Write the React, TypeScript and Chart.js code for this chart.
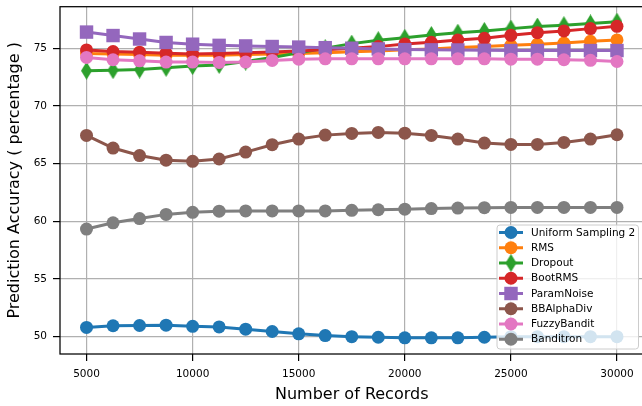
import React, { useEffect, useRef } from "react";
import { Chart, registerables } from "chart.js";

Chart.register(...registerables);

// ---- data ----
const records = [
  5000, 6250, 7500, 8750, 10000, 11250, 12500, 13750, 15000, 16250, 17500,
  18750, 20000, 21250, 22500, 23750, 25000, 26250, 27500, 28750, 30000,
];
const uniformSampling2 = [
  50.8, 50.95, 50.97, 51.0, 50.9, 50.85, 50.65, 50.45, 50.25, 50.1, 50.0,
  49.95, 49.9, 49.9, 49.9, 49.95, 50.0, 50.0, 50.0, 50.0, 50.0,
];
const rms = [
  74.55, 74.5, 74.45, 74.4, 74.4, 74.4, 74.45, 74.5, 74.55, 74.6, 74.7,
  74.77, 74.86, 74.94, 75.06, 75.15, 75.25, 75.35, 75.45, 75.6, 75.72,
];
const dropout = [
  73.05, 73.1, 73.15, 73.3, 73.45, 73.55, 73.85, 74.2, 74.6, 75.0, 75.4,
  75.7, 75.9, 76.15, 76.35, 76.5, 76.7, 76.88, 77.0, 77.15, 77.3,
];
const bootRms = [
  74.85, 74.71, 74.66, 74.57, 74.5, 74.55, 74.6, 74.68, 74.77, 74.86, 75.0,
  75.14, 75.37, 75.51, 75.71, 75.86, 76.12, 76.35, 76.5, 76.7, 76.9,
];
const paramNoise = [
  76.4, 76.1, 75.8, 75.5, 75.35, 75.25, 75.2, 75.15, 75.1, 75.05, 75.0,
  74.94, 74.88, 74.86, 74.85, 74.82, 74.8, 74.8, 74.8, 74.8, 74.8,
];
const bbAlphaDiv = [
  67.44, 66.35, 65.7, 65.3, 65.2, 65.4, 66.0, 66.64, 67.13, 67.47, 67.62,
  67.7, 67.64, 67.44, 67.13, 66.78, 66.66, 66.66, 66.84, 67.13, 67.5,
];
const fuzzyBandit = [
  74.2, 74.0, 73.91, 73.8, 73.8, 73.77, 73.8, 73.94, 74.05, 74.08, 74.08,
  74.08, 74.08, 74.08, 74.08, 74.08, 74.05, 74.05, 74.0, 73.95, 73.85,
];
const banditron = [
  59.33, 59.87, 60.24, 60.6, 60.78, 60.88, 60.9, 60.9, 60.9, 60.9, 60.95,
  61.0, 61.05, 61.1, 61.15, 61.18, 61.2, 61.2, 61.2, 61.2, 61.2,
];

const seriesNames = [
  "Uniform Sampling 2",
  "RMS",
  "Dropout",
  "BootRMS",
  "ParamNoise",
  "BBAlphaDiv",
  "FuzzyBandit",
  "Banditron",
];
const seriesValues = [
  uniformSampling2,
  rms,
  dropout,
  bootRms,
  paramNoise,
  bbAlphaDiv,
  fuzzyBandit,
  banditron,
];
const seriesColors = [
  "#1f77b4",
  "#ff7f0e",
  "#2ca02c",
  "#d62728",
  "#9467bd",
  "#8c564b",
  "#e377c2",
  "#7f7f7f",
];
const seriesMarkers = ["o", "o", "d", "o", "s", "o", "o", "o"];

const xTicks = [5000, 10000, 15000, 20000, 25000, 30000];
const yTicks = [50, 55, 60, 65, 70, 75];
const xLabel = "Number of Records";
const yLabel = "Prediction Accuracy ( percentage )";

const FONT = "'DejaVu Sans', 'Noto Sans', sans-serif";

function makeDiamond(color: string, w: number, h: number) {
  const c = document.createElement("canvas");
  c.width = w;
  c.height = h;
  const ctx = c.getContext("2d")!;
  ctx.fillStyle = color;
  ctx.beginPath();
  ctx.moveTo(w / 2, 0);
  ctx.lineTo(w, h / 2);
  ctx.lineTo(w / 2, h);
  ctx.lineTo(0, h / 2);
  ctx.closePath();
  ctx.fill();
  return c;
}

export default function App() {
  const ref = useRef<HTMLCanvasElement | null>(null);

  useEffect(() => {
    if (!ref.current) return;
    const diamond = makeDiamond(seriesColors[2], 11, 18);

    const styleFor = (m: string) =>
      m === "d" ? diamond : m === "s" ? "rect" : "circle";
    const radiusFor = (m: string) => (m === "s" ? 9.5 : 6.5);

    const datasets = seriesNames.map((name, i) => ({
      label: name,
      data: records.map((x, j) => ({ x, y: seriesValues[i][j] })),
      borderColor: seriesColors[i],
      backgroundColor: seriesColors[i],
      borderWidth: 3,
      pointStyle: styleFor(seriesMarkers[i]) as any,
      pointRadius: radiusFor(seriesMarkers[i]),
      pointBorderWidth: 0,
      pointBackgroundColor: seriesColors[i],
      tension: 0,
      clip: false,
      order: seriesNames.length - i,
    }));

    const framePlugin = {
      id: "frameAndLegend",
      afterDatasetsDraw(chart: any) {
        const { ctx, chartArea } = chart;
        ctx.save();
        ctx.strokeStyle = "#000";
        ctx.lineWidth = 1.25;
        ctx.strokeRect(
          chartArea.left,
          chartArea.top,
          chartArea.right - chartArea.left,
          chartArea.bottom - chartArea.top
        );

        // legend
        const bx = 497,
          by = 225,
          bw = 141.5,
          bh = 124;
        ctx.beginPath();
        if ((ctx as any).roundRect) (ctx as any).roundRect(bx, by, bw, bh, 3);
        else ctx.rect(bx, by, bw, bh);
        ctx.fillStyle = "rgba(255,255,255,0.8)";
        ctx.fill();
        ctx.strokeStyle = "#cccccc";
        ctx.lineWidth = 1;
        ctx.stroke();

        ctx.font = `10.5px ${FONT}`;
        ctx.textBaseline = "middle";
        ctx.textAlign = "left";
        seriesNames.forEach((name, i) => {
          const y = 232.5 + i * 15.25;
          ctx.strokeStyle = seriesColors[i];
          ctx.lineWidth = 3;
          ctx.beginPath();
          ctx.moveTo(499, y);
          ctx.lineTo(523, y);
          ctx.stroke();
          const m = seriesMarkers[i];
          ctx.fillStyle = seriesColors[i];
          if (m === "d") {
            ctx.drawImage(diamond, 511 - diamond.width / 2, y - diamond.height / 2);
          } else if (m === "s") {
            const s = 9.5 * Math.SQRT1_2;
            ctx.fillRect(511 - s, y - s, 2 * s, 2 * s);
          } else {
            ctx.beginPath();
            ctx.arc(511, y, 6.5, 0, Math.PI * 2);
            ctx.fill();
          }
          ctx.fillStyle = "#000";
          ctx.fillText(name, 531, y + 0.5);
        });
        ctx.restore();
      },
      afterDraw(chart: any) {
        const { ctx, chartArea } = chart;
        ctx.save();
        ctx.fillStyle = "#000";
        ctx.font = `16px ${FONT}`;
        ctx.textAlign = "center";
        ctx.textBaseline = "middle";
        ctx.fillText(xLabel, (chartArea.left + chartArea.right) / 2, 395);
        ctx.translate(15, (chartArea.top + chartArea.bottom) / 2);
        ctx.rotate(-Math.PI / 2);
        ctx.fillText(yLabel, 0, 0);
        ctx.restore();
      },
    };

    const chart = new Chart(ref.current, {
      type: "line",
      data: { datasets },
      options: {
        animation: false,
        responsive: false,
        devicePixelRatio: 1,
        layout: {
          autoPadding: false,
          padding: { top: 6.7, right: 2.5, left: 0, bottom: 0 },
        },
        plugins: {
          legend: { display: false },
          tooltip: { enabled: false },
        },
        scales: {
          x: {
            type: "linear",
            min: 3750,
            max: 31250,
            afterBuildTicks: (s: any) => {
              s.ticks = xTicks.map((v) => ({ value: v }));
            },
            afterFit: (s: any) => {
              s.height = 52;
              s.paddingLeft = 0;
              s.paddingRight = 0;
            },
            ticks: {
              color: "#000",
              font: { family: FONT, size: 10.5 },
              padding: 7,
              maxRotation: 0,
              autoSkip: false,
              callback: (v: any) => String(v),
            },
            grid: {
              color: "#b0b0b0",
              lineWidth: 1.2,
              drawTicks: true,
              tickLength: 7,
              tickColor: "#000",
              tickWidth: 1.2,
            },
            border: { display: false },
          },
          y: {
            type: "linear",
            min: 48.5,
            max: 78.6,
            afterBuildTicks: (s: any) => {
              s.ticks = yTicks.map((v) => ({ value: v }));
            },
            afterFit: (s: any) => {
              s.width = 60;
              s.paddingTop = 0;
              s.paddingBottom = 0;
            },
            ticks: {
              color: "#000",
              font: { family: FONT, size: 10.5 },
              padding: 6,
              autoSkip: false,
              callback: (v: any) => String(v),
            },
            grid: {
              color: "#b0b0b0",
              lineWidth: 1.2,
              drawTicks: true,
              tickLength: 7,
              tickColor: "#000",
              tickWidth: 1.2,
            },
            border: { display: false },
          },
        },
      } as any,
      plugins: [framePlugin],
    });

    return () => chart.destroy();
  }, []);

  return (
    <div
      style={{
        position: "fixed",
        left: 0,
        top: 0,
        width: 642,
        height: 406,
        overflow: "hidden",
        background: "#fff",
      }}
    >
      <canvas ref={ref} width={646} height={406} style={{ display: "block" }} />
    </div>
  );
}
